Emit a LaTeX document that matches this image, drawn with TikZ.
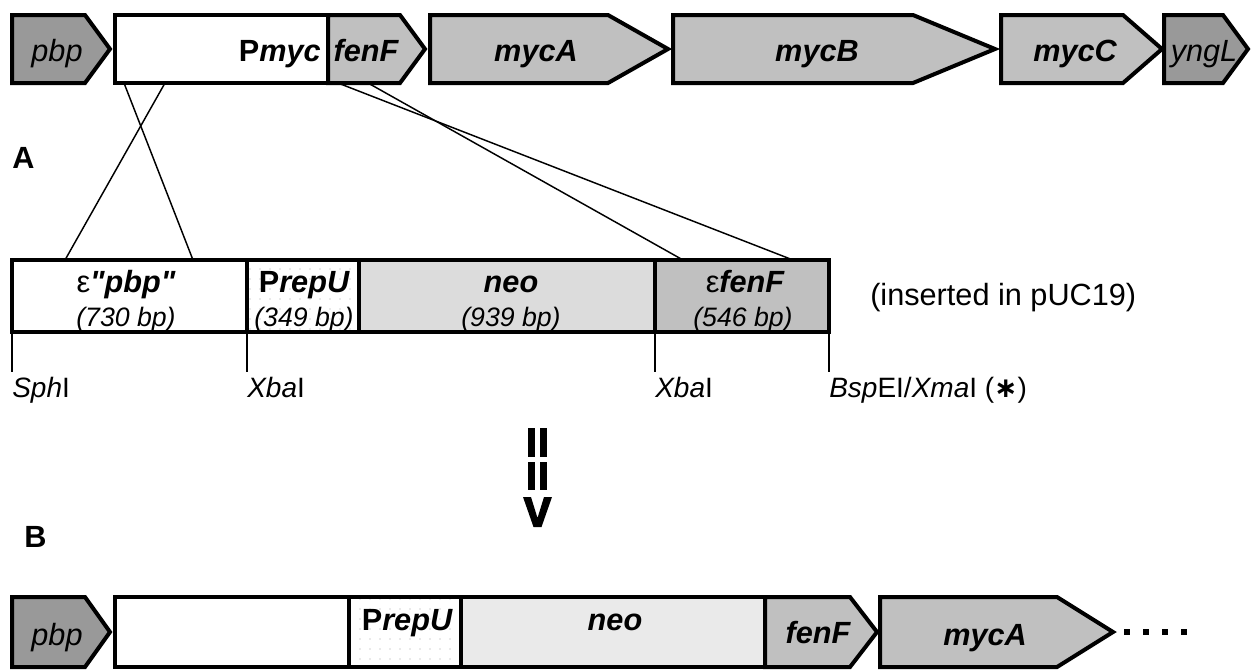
\documentclass[tikz,border=0pt]{standalone}
\usepackage{fontspec}
\setmainfont{Liberation Sans}
\newfontfamily\djv{DejaVu Sans}
\newfontfamily\plainsans{Liberation Sans}
\usetikzlibrary{patterns.meta}

\definecolor{genedark}{HTML}{999999}
\definecolor{genelight}{HTML}{C0C0C0}
\definecolor{neomid}{HTML}{DCDCDC}
\definecolor{neolow}{HTML}{EAEAEA}

\tikzset{
  gene/.style={draw=black, line width=3pt, line join=miter},
  seg/.style={draw=black, line width=3pt},
  dotfill/.style={pattern={Dots[distance=7.5pt,radius=0.5pt]}, pattern color=black!35},
  lbl/.style={anchor=base, inner sep=0pt, font=\fontsize{23}{26}\selectfont},
  bp/.style={anchor=base, inner sep=0pt, font=\fontsize{20}{23}\selectfont\itshape},
  site/.style={anchor=base west, inner sep=0pt, font=\fontsize{21}{24}\selectfont},
  link/.style={line width=1.1pt},
  tick/.style={line width=1.1pt}
}

\begin{document}
\begin{tikzpicture}[x={(0.75pt,0)}, y={(0,-0.75pt)}]
		\fill[white] (0,0) rectangle (1256,669);
		\useasboundingbox (0,0) rectangle (1256,669);
		% top: chromosomal locus
		\draw[gene, fill=white] (115,15) rectangle (328,83);
		\foreach \xa/\xb/\xc/\col in {12/85/110/genedark, 328/400/425/genelight, 430/608/668/genelight,
				673/913/995/genelight, 1001/1123/1162/genelight, 1164/1223/1248/genedark}
			\draw[gene, fill=\col] (\xa,15) -- (\xb,15) -- (\xc,49) -- (\xb,83) -- (\xa,83) -- cycle;
		\node[lbl] (pbpT) at (57,61) {\itshape pbp};
		\node[lbl, anchor=base east] (pmyc) at (321,61) {\bfseries P\itshape myc};
		\node[lbl] (fenT) at (366,61) {\bfseries\itshape fenF};
		\node[lbl] (mycA) at (536,61) {\bfseries\itshape mycA};
		\node[lbl] (mycB) at (817,61) {\bfseries\itshape mycB};
		\node[lbl] (mycC) at (1075,61) {\bfseries\itshape mycC};
		\node[lbl] (yngL) at (1204,61) {\itshape yngL};
		\node[lbl, anchor=base west] (labA) at (12,168) {\bfseries A};
		% construct
		\draw[seg, fill=white] (12,260) rectangle (247,332);
		\draw[seg, dotfill] (247,260) rectangle (359,332);
		\draw[seg, fill=neomid] (359,260) rectangle (655,332);
		\draw[seg, fill=genelight] (655,260) rectangle (829,332);
		\node[lbl] (epbp) at (126,292) {ε{\plainsans\bfseries\itshape "pbp"}};
		\node[bp] at (126,326) {(730 bp)};
		\node[lbl] (prepU) at (304,292) {\bfseries P\itshape repU};
		\node[bp] at (304,326) {(349 bp)};
		\node[lbl] (neo) at (511,292) {\bfseries\itshape neo};
		\node[bp] at (511,326) {(939 bp)};
		\node[lbl] (efenF) at (745,292) {ε{\bfseries\itshape fenF}};
		\node[bp] at (743,326) {(546 bp)};
		\node[lbl, anchor=base west] (ins) at (870,305) {(inserted in pUC19)};
		% crossovers
		\coordinate (p1) at (124,83); \coordinate (p2) at (165,83);
		\coordinate (e1) at (65,260); \coordinate (e2) at (193,260);
		\coordinate (f1) at (338,83); \coordinate (f2) at (368,83);
		\coordinate (g1) at (683,260); \coordinate (g2) at (793,260);
		\draw[link] (p1) -- (e2);
		\draw[link] (p2) -- (e1);
		\draw[link] (f1) -- (g2);
		\draw[link] (f2) -- (g1);
		% restriction sites
		\foreach \x in {12,247,655,829}
			\draw[tick] (\x,332) -- (\x,372);
		\node[site] (sph) at (12,397) {\textit{Sph}I};
		\node[site] (xba1) at (247,397) {\textit{Xba}I};
		\node[site] (xba2) at (655,397) {\textit{Xba}I};
		\node[site] (bsp) at (829,397) {\textit{Bsp}EI/\textit{Xma}I ({\djv\bfseries ∗})};
		% arrow
		\fill (528,428) rectangle (535,457);
		\fill (540,428) rectangle (547,457);
		\fill (528,462) rectangle (535,490);
		\fill (540,462) rectangle (547,490);
		\fill (523,497) -- (531,497) -- (537.5,518) -- (544,497) -- (552,497) -- (541.5,527) -- (533.5,527) -- cycle;
		\node[lbl, anchor=base west] (labB) at (24,547) {\bfseries B};
		% bottom: mutant locus
		\draw[gene, fill=white] (115,597) rectangle (349,667);
		\draw[gene, dotfill] (349,597) rectangle (461,667);
		\draw[gene, fill=neolow] (461,597) rectangle (765,667);
		\foreach \xa/\xb/\xc/\col in {12/85/110/genedark, 765/850/877/genelight, 880/1057/1113/genelight}
			\draw[gene, fill=\col] (\xa,597) -- (\xb,597) -- (\xc,632) -- (\xb,667) -- (\xa,667) -- cycle;
		\node[lbl] (pbpB) at (57,645) {\itshape pbp};
		\node[lbl] (prepUB) at (407,630) {\bfseries P\itshape repU};
		\node[lbl] (neoB) at (615,630) {\bfseries\itshape neo};
		\node[lbl] (fenB) at (818,643) {\bfseries\itshape fenF};
		\node[lbl] (mycAB) at (985,645) {\bfseries\itshape mycA};
		\foreach \x in {1127,1146,1165,1184}
			\fill (\x-3,629) rectangle (\x+3,635);
		\end{tikzpicture}
\end{document}
